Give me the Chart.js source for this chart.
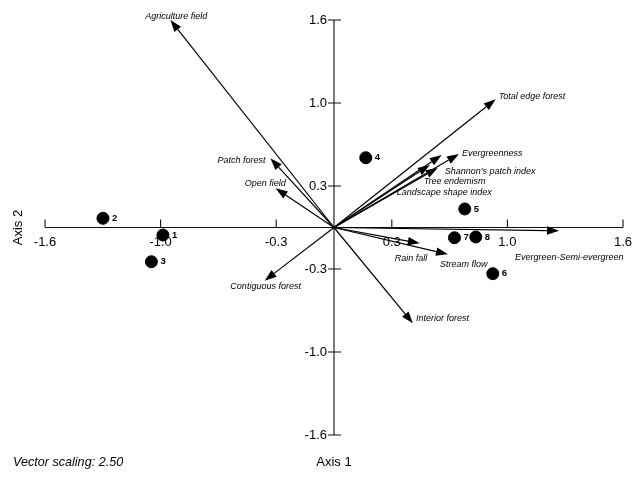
<!DOCTYPE html>
<html>
<head>
<meta charset="utf-8">
<script src="https://cdn.jsdelivr.net/npm/chart.js@4/dist/chart.umd.min.js"></script>
<style>
  body { margin: 0; background: #fff; }
  canvas { display: block; }
</style>
</head>
<body>
<canvas id="myChart" width="638" height="479"></canvas>
<script>
// site scores
var siteNames = ["1", "2", "3", "4", "5", "6", "7", "8"];
var siteX = [-0.947, -1.279, -1.011, 0.176, 0.724, 0.879, 0.667, 0.785];
var siteY = [-0.058, 0.071, -0.264, 0.538, 0.143, -0.356, -0.079, -0.073];

// environmental vectors (tips)
var vectorNames = ["Agriculture field", "Patch forest", "Open field", "Total edge forest",
  "Evergreenness", "Shannon's patch index", "Tree endemism", "Landscape shape index",
  "Evergreen-Semi-evergreen", "Rain fall", "Stream flow", "Interior forest", "Contiguous forest"];
var vectorX = [-0.906, -0.352, -0.323, 0.895, 0.692, 0.596, 0.530, 0.574, 1.246, 0.475, 0.631, 0.437, -0.384];
var vectorY = [1.600, 0.534, 0.302, 0.988, 0.567, 0.559, 0.482, 0.459, -0.025, -0.122, -0.207, -0.739, -0.410];

// axis ticks
var tickValues = [-1.6, -0.96, -0.32, 0.32, 0.96, 1.6];
var tickLabels = ["-1.6", "-1.0", "-0.3", "0.3", "1.0", "1.6"];

// label placement for vectors: [align, dx, dy] in px from the tip
var vectorLabelPos = [
  ["center", 6, -4], ["right", -5, 2], ["right", 10, -5], ["left", 3, -3],
  ["left", 3, 0], ["left", 3, 16], ["left", -6, 17], ["left", -41, 25],
  ["left", -44, 27], ["left", -25, 15], ["left", -8, 10], ["left", 3, -5], ["center", 1, 6]
];

var FONT = "'Liberation Sans', Arial, sans-serif";

var sitePoints = siteX.map(function (x, i) { return { x: x, y: siteY[i] }; });

var biplotPlugin = {
  id: "biplot",
  beforeDatasetsDraw: function (chart) {
    var ctx = chart.ctx;
    var xs = chart.scales.x, ys = chart.scales.y;
    var x0 = xs.getPixelForValue(0), y0 = ys.getPixelForValue(0);
    ctx.save();
    ctx.strokeStyle = "#111";
    ctx.lineWidth = 1.1;
    ctx.beginPath();
    ctx.moveTo(xs.getPixelForValue(-1.6), y0);
    ctx.lineTo(xs.getPixelForValue(1.6), y0);
    ctx.moveTo(x0, ys.getPixelForValue(1.6));
    ctx.lineTo(x0, ys.getPixelForValue(-1.6));
    tickValues.forEach(function (v) {
      var px = xs.getPixelForValue(v);
      ctx.moveTo(px, y0 - 8);
      ctx.lineTo(px, y0);
      var py = ys.getPixelForValue(v);
      ctx.moveTo(x0 - 6, py);
      ctx.lineTo(x0 + 7, py);
    });
    ctx.stroke();

    ctx.fillStyle = "#000";
    ctx.font = "13px " + FONT;
    ctx.textBaseline = "middle";
    tickValues.forEach(function (v, i) {
      ctx.textAlign = "center";
      ctx.fillText(tickLabels[i], xs.getPixelForValue(v), y0 + 15);
      ctx.textAlign = "right";
      ctx.fillText(tickLabels[i], x0 - 7, ys.getPixelForValue(v));
    });

    // axis titles and note
    ctx.textAlign = "center";
    ctx.font = "13px " + FONT;
    ctx.fillText("Axis 1", x0, 462);
    ctx.save();
    ctx.translate(18, y0);
    ctx.rotate(-Math.PI / 2);
    ctx.fillText("Axis 2", 0, 0);
    ctx.restore();
    ctx.textAlign = "left";
    ctx.font = "italic 12.6px " + FONT;
    ctx.fillText("Vector scaling: 2.50", 13, 462);

    // vectors
    ctx.strokeStyle = "#000";
    ctx.fillStyle = "#000";
    ctx.lineWidth = 1.2;
    vectorX.forEach(function (vx, i) {
      var tx = xs.getPixelForValue(vx), ty = ys.getPixelForValue(vectorY[i]);
      var ang = Math.atan2(ty - y0, tx - x0);
      var len = 12, hw = 4.2;
      var bx = tx - len * Math.cos(ang), by = ty - len * Math.sin(ang);
      ctx.beginPath();
      ctx.moveTo(x0, y0);
      ctx.lineTo(bx, by);
      ctx.stroke();
      ctx.beginPath();
      ctx.moveTo(tx, ty);
      ctx.lineTo(bx + hw * Math.sin(ang), by - hw * Math.cos(ang));
      ctx.lineTo(bx - hw * Math.sin(ang), by + hw * Math.cos(ang));
      ctx.closePath();
      ctx.fill();

      var p = vectorLabelPos[i];
      ctx.font = "italic 9px " + FONT;
      ctx.textAlign = p[0];
      ctx.fillText(vectorNames[i], tx + p[1], ty + p[2]);
    });
    ctx.restore();
  },
  afterDatasetsDraw: function (chart) {
    var ctx = chart.ctx;
    var meta = chart.getDatasetMeta(0);
    ctx.save();
    ctx.fillStyle = "#000";
    ctx.font = "bold 9.5px " + FONT;
    ctx.textAlign = "left";
    ctx.textBaseline = "middle";
    meta.data.forEach(function (pt, i) {
      ctx.fillText(siteNames[i], pt.x + 9, pt.y);
    });
    ctx.restore();
  }
};

var ctx = document.getElementById("myChart").getContext("2d");
var myChart = new Chart(ctx, {
  type: "scatter",
  data: {
    datasets: [
      {
        data: sitePoints,
        backgroundColor: "#000",
        borderColor: "#000",
        pointRadius: 6,
        pointHoverRadius: 6,
      },
    ],
  },
  options: {
    responsive: false,
    animation: false,
    layout: {
      padding: { left: 45, right: 15, top: 20, bottom: 44 },
    },
    plugins: {
      legend: { display: false },
      tooltip: { enabled: false },
    },
    scales: {
      x: { type: "linear", min: -1.6, max: 1.6, display: false },
      y: { type: "linear", min: -1.6, max: 1.6, display: false },
    },
  },
  plugins: [biplotPlugin],
});
</script>
</body>
</html>
